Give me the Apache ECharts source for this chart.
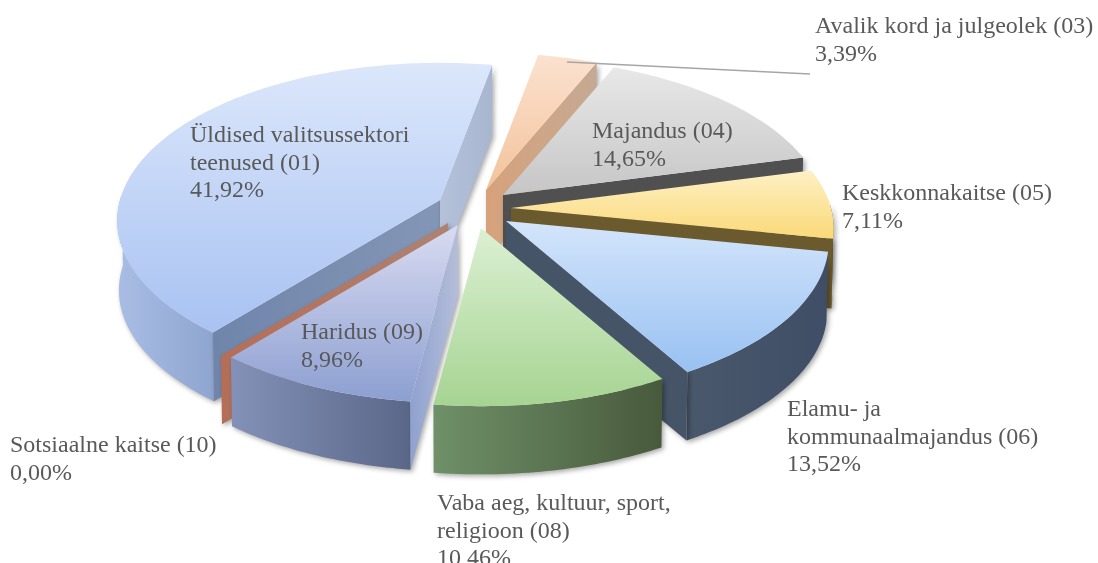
<!DOCTYPE html>
<html><head><meta charset="utf-8">
<style>html,body{margin:0;padding:0;background:#fff}#c{width:1098px;height:563px}</style>
<script src="https://cdn.jsdelivr.net/npm/echarts@6/dist/echarts.min.js"></script>
</head><body><div id="c"></div>
<script>
// data, in chart order (clockwise)
const categories = ['Üldised valitsussektori\nteenused (01)','Avalik kord ja julgeolek (03)','Majandus (04)','Keskkonnakaitse (05)','Elamu- ja\nkommunaalmajandus (06)','Vaba aeg, kultuur, sport,\nreligioon (08)','Haridus (09)','Sotsiaalne kaitse (10)'];
const values = [41.92,3.39,14.65,7.11,13.52,10.46,8.96,0.00];
// styles
const explodeOffset = [[-35,-9.5],[11,-19.5],[28,-14.5],[36,-1.5],[31,11.5],[6,18.5],[-17,15.5],[-27,13.5]];
const paintOrder = [0,1,2,3,4,7,6,5];
const topColors = [['#dce7fb','#a8c2f2'],['#fbe2cf','#f3c29b'],['#e8e8e8','#c6c6c6'],['#fdf0c4','#fbd978'],['#d4e5fb','#98c1f2'],['#dcf0d3','#a6d492'],['#d9dbf1','#8c9fd1'],['#b5735d','#b5735d']];
const wallColors = [['#a9bde4','#8ea5cf'],['#d6a681','#c99a76'],['#555555','#4a4a4a'],['#6b5a2e','#5f5028'],['#4a586c','#3f4e66'],['#6f9068','#485a3c'],['#8391b8','#5a6788'],['#b36f58','#b36f58']];
const cutColors = [['#6f85aa','#8496b6','#b4c1d9','#a8b6d0'],['#d6a681','#c5a68f','#d6a27c','#c5a993'],['#505050','#505050','#505050','#505050'],['#6b5a2e','#6b5a2e','#6b5a2e','#6b5a2e'],['#465467','#465467','#465467','#465467'],['#5a7a50','#5a7a50','#5a7a50','#5a7a50'],['#8fa1cf','#b4bed9','#a0aed4','#b4bed9'],['#b46e58','#ad8272','#b46e58','#ad8272']];
const labelPos = [[190,122],[815,13],[592,118],[842,180],[787,396],[437,490],[301,319],[10,432]];
const leader = [[567,62],[810,74]];
const cx = 475, cy = 209.5, rx = 320, ry = 155, persp = 0.13, depth = 70, startDeg = 219.7, lowScale = 0.99, lowScaleX = 0.995;
const font = '24px "Liberation Serif"', textFill = '#595959', lh = 27.5;

const total = values.reduce((a,b)=>a+b,0);
const angles = []; { let a = startDeg; values.forEach(v=>{ const e=a+v/total*360; angles.push([a,e]); a=e; }); }
function proj(deg){ const t=deg*Math.PI/180, s=Math.sin(t), c=Math.cos(t), d=1+persp*c; return [rx*s/d, -ry*c/d]; }
function grad(x,y,x2,y2,c){ return {type:'linear',x,y,x2,y2,global:true,colorStops:[{offset:0,color:c[0]},{offset:1,color:c[1]}]}; }
const shadow = {shadowBlur:5,shadowOffsetX:2,shadowOffsetY:2,shadowColor:'rgba(0,0,0,0.35)'};

function slice(i){
  const [a0,a1] = angles[i];
  const ax = cx + explodeOffset[i][0], ay = cy + explodeOffset[i][1];
  const rimA=[]; const n=Math.max(1,Math.ceil(a1-a0));
  for(let k=0;k<=n;k++) rimA.push(a0+(a1-a0)*k/n);
  const toUp=d=>{const p=proj(d);return [ax+p[0],ay+p[1]];};
  const toLow=d=>{const p=proj(d);return [ax+p[0]*lowScaleX,ay+p[1]*lowScale+depth];};
  const up=rimA.map(toUp);
  const kids=[], z=paintOrder.indexOf(i)*10;
  const poly=(points,fill,zz,sh)=>kids.push({type:'polygon',z2:z+zz,shape:{points},style:Object.assign({fill,stroke:null},sh?shadow:{})});
  const ys=up.map(p=>p[1]).concat(ay);
  // outer wall: only the part of the rim turned towards the viewer
  const front=rimA.filter(d=>Math.cos(d*Math.PI/180)<0.03);
  if(values[i]>0 && front.length>1){
    const fu=front.map(toUp), fl=front.map(toLow), xs=fl.map(p=>p[0]);
    poly(fu.concat(fl.slice().reverse()),grad(Math.min(...xs),0,Math.max(...xs),0,wallColors[i]),1,true);
  }
  // cut faces that look towards the viewer
  if(Math.sin(a0*Math.PI/180)<0){
    const e=toUp(a0),l=toLow(a0);
    poly([[ax,ay],e,l,[ax,ay+depth]],grad(e[0],0,ax,0,[cutColors[i][0],cutColors[i][1]]),2,true);
  }
  if(Math.sin(a1*Math.PI/180)>0){
    const e=toUp(a1),l=toLow(a1);
    poly([[ax,ay],e,l,[ax,ay+depth]],grad(ax,0,e[0],0,[cutColors[i][2],cutColors[i][3]]),2,true);
  }
  if(values[i]>0) poly([[ax,ay]].concat(up),grad(0,Math.min(...ys),0,Math.max(...ys),topColors[i]),3,false);
  return kids;
}
function fmt(v){ return v.toFixed(2).replace('.',',')+'%'; }

const chart = echarts.init(document.getElementById('c'),null,{renderer:'canvas'});
chart.setOption({
  animation:false,
  backgroundColor:'#fff',
  series:[{
    type:'custom',coordinateSystem:'none',silent:true,clip:false,
    data:values.map((v,i)=>[i,v]),
    renderItem(params,api){
      const i=params.dataIndex, kids=slice(i);
      kids.push({type:'text',z2:500,style:{x:labelPos[i][0],y:labelPos[i][1],text:categories[i]+'\n'+fmt(api.value(1)),font,fill:textFill,lineHeight:lh,textAlign:'left',textVerticalAlign:'top'}});
      if(i===1) kids.push({type:'polyline',z2:400,shape:{points:leader},style:{stroke:'#a6a6a6',lineWidth:1.5,fill:null}});
      return {type:'group',children:kids};
    }
  }]
});
</script></body></html>
